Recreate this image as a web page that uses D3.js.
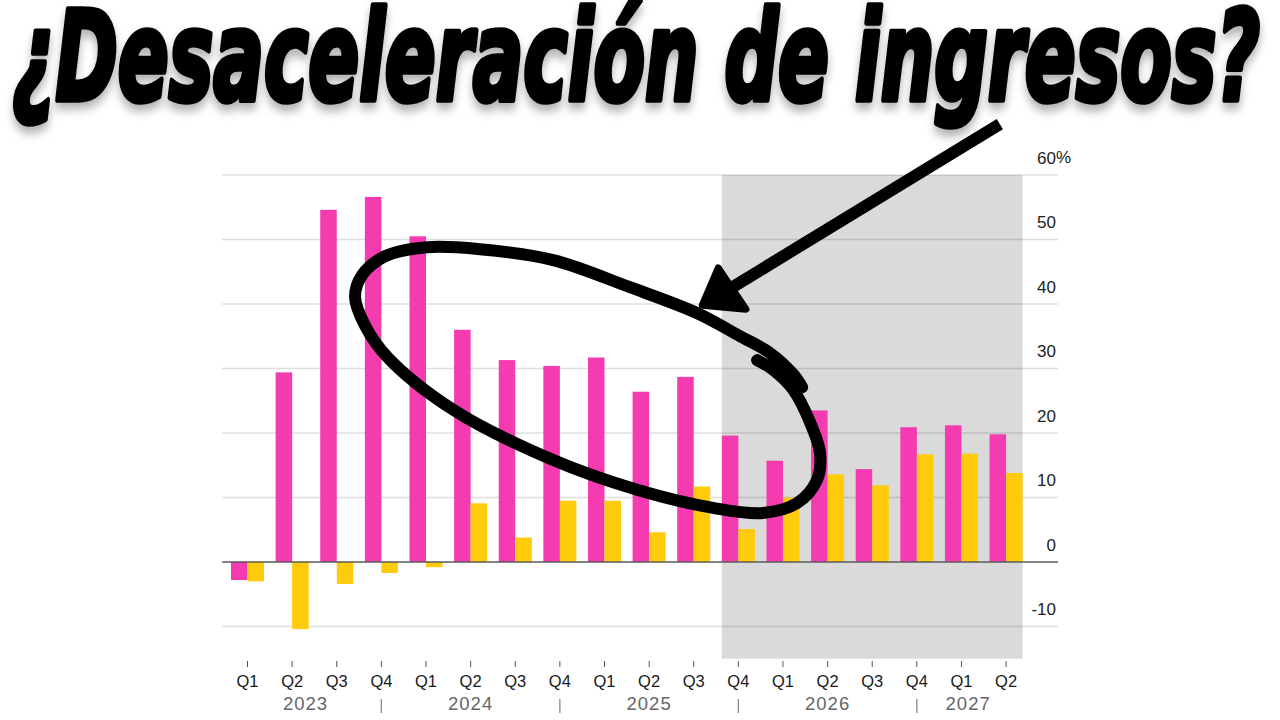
<!DOCTYPE html>
<html>
<head>
<meta charset="utf-8">
<script src="https://cdn.jsdelivr.net/npm/d3@7"></script>
<style>
  html, body { margin: 0; padding: 0; background: #fff; }
  svg { display: block; }
</style>
</head>
<body>
<div id="chart"></div>
<script>
// quarters shown on the x axis
const periods = ["2023 Q1", "2023 Q2", "2023 Q3", "2023 Q4", "2024 Q1", "2024 Q2", "2024 Q3", "2024 Q4",
                 "2025 Q1", "2025 Q2", "2025 Q3", "2025 Q4", "2026 Q1", "2026 Q2", "2026 Q3", "2026 Q4",
                 "2027 Q1", "2027 Q2"];
const quarterLabels = ["Q1", "Q2", "Q3", "Q4", "Q1", "Q2", "Q3", "Q4", "Q1", "Q2", "Q3", "Q4",
                       "Q1", "Q2", "Q3", "Q4", "Q1", "Q2"];
// growth in %
const pinkValues = [-2.8, 29.4, 54.6, 56.6, 50.5, 36.0, 31.3, 30.4, 31.7, 26.4, 28.7, 19.6,
                    15.7, 23.5, 14.4, 20.9, 21.2, 19.8];
const yellowValues = [-3.0, -10.4, -3.4, -1.7, -0.8, 9.1, 3.8, 9.5, 9.5, 4.6, 11.7, 5.1,
                      10.0, 13.6, 11.9, 16.7, 16.8, 13.8];
const yTicks = [-10, 0, 10, 20, 30, 40, 50, 60];
const yearLabels = ["2023", "2024", "2025", "2026", "2027"];
const yearPos = [1.3, 5, 9, 13, 16.15];      // in quarter-index units
const yearSeparators = [3, 7, 11, 15];
const forecastStart = "2025 Q4", forecastEnd = "2027 Q2";

// hand drawn annotation, in [quarter index, %] units
const loopPoints = [[12.43, 27.1], [12.23, 29.1], [11.71, 32.4], [11.04, 35.0], [10.07, 38.6], [8.57, 42.6],
  [6.85, 46.8], [5.21, 48.5], [4.02, 48.8], [3.08, 47.4], [2.57, 44.5], [2.41, 41.1], [2.63, 36.7],
  [3.13, 31.8], [4.61, 23.6], [6.85, 15.8], [8.73, 11.2], [10.43, 8.4], [11.55, 7.6], [12.31, 9.1],
  [12.76, 12.7], [12.83, 16.9], [12.61, 21.6], [12.23, 26.7], [11.78, 29.8], [11.42, 31.3]];
const arrowShaft = [[16.86, 67.9], [10.77, 42.2]];
const arrowHead = [[10.55, 45.6], [11.17, 39.2], [10.19, 39.8]];

const width = 1280, height = 720;
const pink = "#f43baf", yellow = "#fecb0d";
const axisFont = "'Liberation Sans', Arial, sans-serif";

const svg = d3.select("#chart").append("svg")
  .attr("width", width)
  .attr("height", height);

// scales
const x = d3.scaleBand()
  .domain(periods)
  .range([225.2, 1028.4])
  .paddingInner(0.26)
  .paddingOuter(0.13);
const xSub = d3.scaleBand()
  .domain(["pink", "yellow"])
  .range([0, x.bandwidth()]);
const y = d3.scaleLinear()
  .domain([-15, 60])
  .range([658.75, 175]);

// center of a (fractional) quarter index
const xc = i => x(periods[0]) + x.bandwidth() / 2 + i * x.step();

// forecast shading
svg.append("rect")
  .attr("x", x(forecastStart))
  .attr("y", y(60))
  .attr("width", x(forecastEnd) + x.bandwidth() - x(forecastStart))
  .attr("height", y(-15) - y(60))
  .attr("fill", "#dadada");

// horizontal grid
const gridLeft = x.range()[0] - 3, gridRight = 1058;
svg.selectAll("line.grid").data(yTicks.filter(d => d !== 0)).enter()
  .append("line")
  .attr("class", "grid")
  .attr("x1", gridLeft)
  .attr("x2", gridRight)
  .attr("y1", d => y(d))
  .attr("y2", d => y(d))
  .attr("stroke", "rgba(0,0,0,0.13)")
  .attr("stroke-width", 1.5);

// bars
const groups = svg.selectAll("g.quarter").data(periods).enter()
  .append("g")
  .attr("class", "quarter")
  .attr("transform", d => "translate(" + x(d) + ",0)");

groups.append("rect")
  .attr("x", xSub("pink"))
  .attr("width", xSub.bandwidth())
  .attr("y", (d, i) => y(Math.max(0, pinkValues[i])))
  .attr("height", (d, i) => Math.abs(y(pinkValues[i]) - y(0)))
  .attr("fill", pink);

groups.append("rect")
  .attr("x", xSub("yellow"))
  .attr("width", xSub.bandwidth())
  .attr("y", (d, i) => y(Math.max(0, yellowValues[i])))
  .attr("height", (d, i) => Math.abs(y(yellowValues[i]) - y(0)))
  .attr("fill", yellow);

// zero line
svg.append("line")
  .attr("x1", gridLeft)
  .attr("x2", gridRight)
  .attr("y1", y(0))
  .attr("y2", y(0))
  .attr("stroke", "#5a5a5a")
  .attr("stroke-width", 1.5);

// y axis on the right
const yAxis = svg.append("g")
  .attr("transform", "translate(1056,0)")
  .call(d3.axisRight(y).tickValues(yTicks).tickSize(0).tickFormat(d => d));
yAxis.select(".domain").remove();
yAxis.selectAll("text")
  .attr("x", 0)
  .attr("dy", -12)
  .attr("text-anchor", "end")
  .attr("fill", "#222")
  .style("font-family", axisFont)
  .style("font-size", "17px");
svg.append("text")
  .attr("x", 1056)
  .attr("y", y(60) - 12)
  .attr("fill", "#222")
  .style("font-family", axisFont)
  .style("font-size", "17px")
  .text("%");

// x axis
const xAxis = svg.append("g")
  .attr("transform", "translate(0,661)")
  .call(d3.axisBottom(x).tickSize(6).tickFormat((d, i) => quarterLabels[i]));
xAxis.select(".domain").remove();
xAxis.selectAll(".tick line").attr("stroke", "#555");
xAxis.selectAll("text")
  .attr("y", 26)
  .attr("dy", 0)
  .attr("fill", "#1a1a1a")
  .style("font-family", axisFont)
  .style("font-size", "16.5px");

// years and separators
svg.selectAll("text.year").data(yearLabels).enter()
  .append("text")
  .attr("class", "year")
  .attr("x", (d, i) => xc(yearPos[i]))
  .attr("y", 710)
  .attr("text-anchor", "middle")
  .attr("fill", "#666")
  .style("font-family", axisFont)
  .style("font-size", "18.5px")
  .style("letter-spacing", "1px")
  .text(d => d);

svg.selectAll("line.sep").data(yearSeparators).enter()
  .append("line")
  .attr("class", "sep")
  .attr("x1", d => xc(d))
  .attr("x2", d => xc(d))
  .attr("y1", 699)
  .attr("y2", 713)
  .attr("stroke", "#888")
  .attr("stroke-width", 1.3);

// annotation: loop and arrow
const annotLine = d3.line()
  .x(d => xc(d[0]))
  .y(d => y(d[1]))
  .curve(d3.curveCatmullRom.alpha(0.5));

svg.append("path")
  .attr("d", annotLine(loopPoints))
  .attr("fill", "none")
  .attr("stroke", "#000")
  .attr("stroke-width", 12)
  .attr("stroke-linecap", "round")
  .attr("stroke-linejoin", "round");

svg.append("path")
  .attr("d", d3.line().x(d => xc(d[0])).y(d => y(d[1]))(arrowShaft))
  .attr("stroke", "#000")
  .attr("stroke-width", 12);

svg.append("path")
  .attr("d", d3.line().x(d => xc(d[0])).y(d => y(d[1]))(arrowHead) + "Z")
  .attr("fill", "#000")
  .attr("stroke", "#000")
  .attr("stroke-width", 7)
  .attr("stroke-linejoin", "round");

// title with soft shadow
const defs = svg.append("defs");
const shadow = defs.append("filter").attr("id", "shadow")
  .attr("x", "-5%").attr("y", "-20%").attr("width", "110%").attr("height", "150%");
shadow.append("feDropShadow")
  .attr("dx", 0).attr("dy", 6)
  .attr("stdDeviation", 4)
  .attr("flood-color", "#000")
  .attr("flood-opacity", 0.3);

svg.append("g")
  .attr("transform", "translate(636,100) scale(1,1.14)")
  .append("text")
  .attr("x", 0)
  .attr("y", 0)
  .attr("text-anchor", "middle")
  .attr("textLength", 1248)
  .attr("lengthAdjust", "spacingAndGlyphs")
  .attr("fill", "#000")
  .attr("stroke", "#000")
  .attr("stroke-width", 5)
  .attr("stroke-linejoin", "round")
  .attr("filter", "url(#shadow)")
  .style("font-family", "'DejaVu Sans Condensed', 'DejaVu Sans', sans-serif")
  .style("font-weight", "bold")
  .style("font-style", "oblique")
  .style("font-size", "110px")
  .text("¿Desaceleración de ingresos?");
</script>
</body>
</html>
